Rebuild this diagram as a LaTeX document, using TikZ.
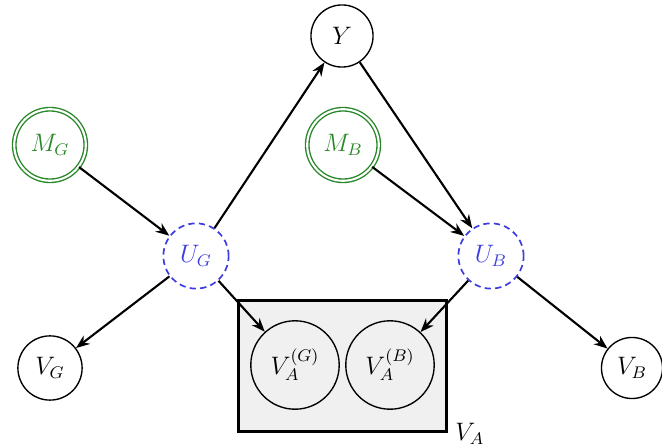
\documentclass[tikz,border=0pt]{standalone}
\usetikzlibrary{arrows.meta}
\definecolor{mgreen}{RGB}{40,135,40}
\definecolor{ublue}{RGB}{60,60,225}
\begin{document}
\begin{tikzpicture}[x=0.475pt,y=-0.475pt,
  every node/.style={font=\large},
  var/.style={circle,draw,line width=0.65pt,inner sep=0pt},
  obs/.style={circle,draw=mgreen,text=mgreen,double,double distance=1pt,line width=0.65pt,inner sep=0pt,minimum size=34pt},
  lat/.style={circle,draw=ublue,text=ublue,dashed,dash pattern=on 3pt off 2pt,line width=0.8pt,inner sep=0pt,minimum size=31pt},
  arr/.style={-{Stealth[length=6.5pt,width=5pt]},line width=1pt}]
\useasboundingbox (0,0) rectangle (662,447);
\node[var,minimum size=29.5pt] (Y) at (342,36) {$Y$};
\node[obs] (MG) at (50,145) {$M_G$};
\node[obs] (MB) at (343,145) {$M_B$};
\node[lat] (UG) at (196,256) {$U_G$};
\node[lat] (UB) at (491,256) {$U_B$};
\node[var,minimum size=30.5pt] (VG) at (50,368) {$V_G$};
\node[var,minimum size=29pt] (VB) at (632,368) {$V_B$};
\node[draw,line width=1.5pt,fill=gray!12,minimum width=99pt,minimum height=62.5pt,inner sep=0pt] (box) at (342.5,366) {};
\node[var,minimum size=42pt] (VAG) at (295,365) {$V_A^{(G)}$};
\node[var,minimum size=42pt] (VAB) at (390,365) {$V_A^{(B)}$};
\node[anchor=west,inner sep=0pt] (VA) at (455,434) {$V_A$};
\draw[arr] (MG) -- (UG);
\draw[arr] (MB) -- (UB);
\draw[arr] (UG) -- (Y);
\draw[arr] (Y) -- (UB);
\draw[arr] (UG) -- (VG);
\draw[arr] (UG) -- (VAG);
\draw[arr] (UB) -- (VAB);
\draw[arr] (UB) -- (VB);
\end{tikzpicture}
\end{document}
